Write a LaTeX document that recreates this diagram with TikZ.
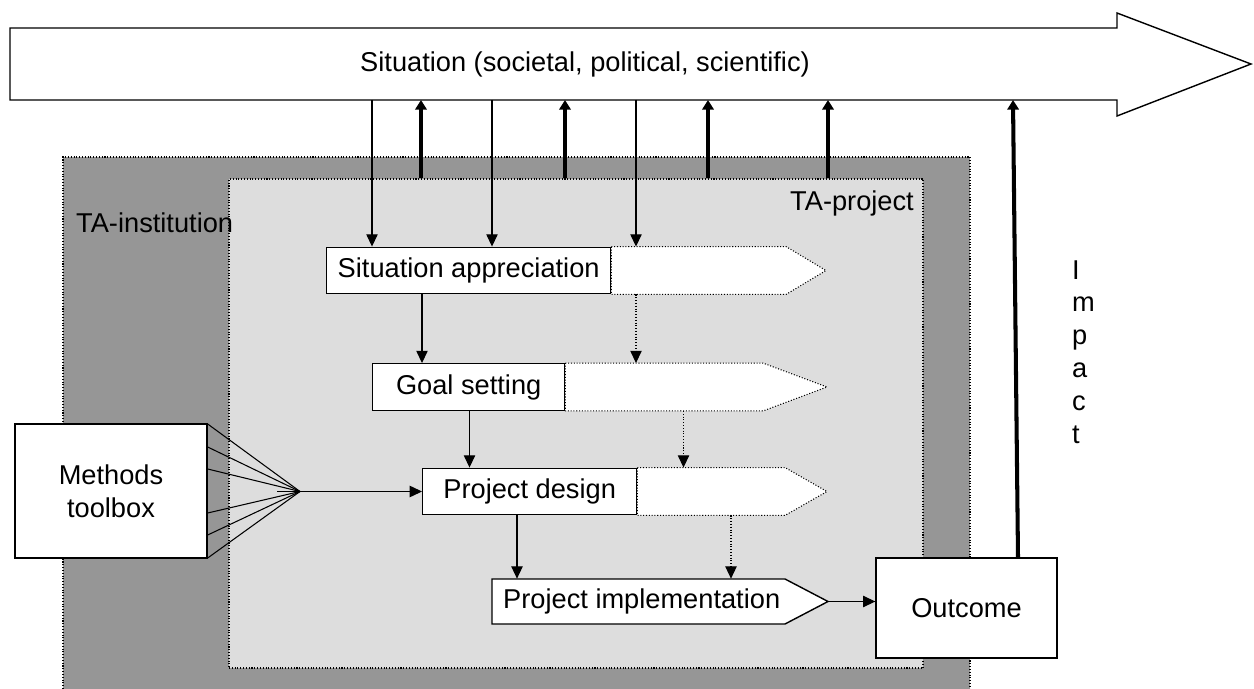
\documentclass[tikz,border=0pt]{standalone}
\usepackage{fontspec}
\setmainfont{Liberation Sans}
\usetikzlibrary{positioning,arrows.meta,fit}

\definecolor{instgray}{RGB}{150,150,150}
\definecolor{projgray}{RGB}{221,221,221}

\tikzset{
  phase/.style={draw, fill=white, line width=0.8pt, anchor=west, minimum height=0.93cm},
  ext/.style={draw, fill=white, densely dotted, line width=0.6pt},
  flow/.style={-{Triangle[length=7pt,width=6.5pt]}, line width=0.6pt},
  dflow/.style={flow, densely dotted},
  push/.style={-{Triangle[length=5.5pt,width=6.5pt]}, line width=2.3pt},
  plainbox/.style={draw, fill=white, line width=0.8pt, align=center}
}

\begin{document}
\begin{tikzpicture}[x=0.02cm, y=-0.02cm, font=\fontsize{15.5}{18.7}\selectfont]
        \useasboundingbox (0,0) rectangle (1254,689);

        % institution and project areas
        \fill[instgray] (63,157) rectangle (970,689);
        \draw[densely dotted, line width=0.6pt] (63,689) -- (63,157) -- (970,157) -- (970,689);
        \coordinate (pa) at (229,179);
        \coordinate (pb) at (923,668);
        \node[fit=(pa)(pb), inner sep=0pt, fill=projgray, draw, densely dotted, line width=0.6pt] (proj) {};
        \node[anchor=west] (instLabel) at (70,223) {TA-institution};
        \node[anchor=east] (projLabel) at (920,203) {TA-project};

        % situation arrow
        \draw[fill=white, line width=0.8pt] (10,28) -- (1117,28) -- (1117,13) -- (1251,64) -- (1117,116) -- (1117,100) -- (10,100) -- cycle;
        \node (sit) at (585,64) {Situation (societal, political, scientific)};
        \coordinate (sitBase) at (0,100);

        % phases
        \node[phase, minimum width=5.68cm] (sa) at (326,270.5) {Situation appreciation};
        \draw[ext] (sa.north east) -- (sa.north -| 786,0) -- (sa.east -| 826,0) -- (sa.south -| 786,0) -- (sa.south east) -- cycle;
        \node[phase, minimum width=3.84cm] (goal) at (372,387) {Goal setting\hspace{0.4cm}};
        \draw[ext] (goal.north east) -- (goal.north -| 763,0) -- (goal.east -| 827,0) -- (goal.south -| 763,0) -- (goal.south east) -- cycle;
        \node[phase, minimum width=4.28cm] (design) at (422,491.5) {Project design\hspace{0.4cm}};
        \draw[ext] (design.north east) -- (design.north -| 785,0) -- (design.east -| 827,0) -- (design.south -| 785,0) -- (design.south east) -- cycle;
        \draw[fill=white, line width=0.8pt] (492,579) -- (785,579) -- (828,601.5) -- (785,624) -- (492,624) -- cycle;
        \node[anchor=west, minimum height=0.9cm] (impl) at (492,601.5) {\hspace{0.1cm}Project implementation};
        \coordinate (implTip) at (828,601.5);

        \node[plainbox, minimum width=3.84cm, minimum height=2.68cm] (tool) at (111,491) {Methods\\toolbox};
        \node[plainbox, minimum width=3.62cm, minimum height=2cm] (outcome) at (966.5,608) {Outcome};

        % situation in and out
        \foreach \x in {372,492,636}
          \draw[flow] (sitBase -| \x,0) -- (sa.north -| \x,0);
        \foreach \x in {421,565,708,828}
          \draw[push] (proj.north -| \x,0) -- (sitBase -| \x,0);

        % between phases
        \draw[flow] (sa.south -| 422,0) -- (goal.north -| 422,0);
        \draw[dflow] (sa.south -| 636,0) -- (goal.north -| 636,0);
        \draw[flow] (goal.south -| 469.5,0) -- (design.north -| 469.5,0);
        \draw[dflow] (goal.south -| 683.5,0) -- (design.north -| 683.5,0);
        \draw[flow] (design.south -| 517,0) -- (impl.north -| 517,0);
        \draw[dflow] (design.south -| 731,0) -- (impl.north -| 731,0);
        \draw[flow] (implTip) -- (outcome.west |- implTip);

        % toolbox fan
        \coordinate (fan) at (300,491.5);
        \foreach \y in {424,447,469,513,535,558}
          \draw[line width=0.6pt] (tool.east |- 0,\y) -- (fan);
        \draw[flow] (fan) ++(-23,0) -- (design.west);

        % impact
        \draw[push] (outcome.north -| 1018,0) -- (sitBase -| 1013,0);
        \node[anchor=west, align=left] (impact) at (1066,352) {I\\m\\p\\a\\c\\t};
      \end{tikzpicture}
\end{document}
